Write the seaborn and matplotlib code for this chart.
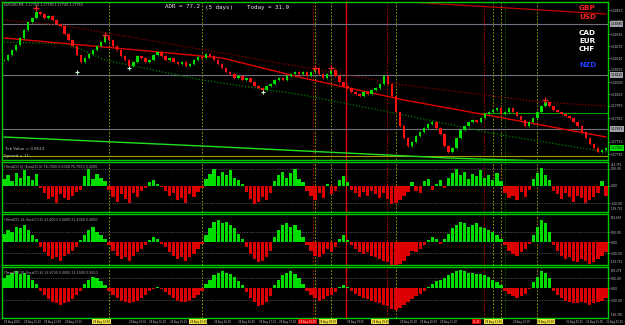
import numpy as np
import pandas as pd
import matplotlib
matplotlib.use("Agg")
import matplotlib.pyplot as plt
import seaborn as sns
from matplotlib.transforms import blended_transform_factory as btf

# ---------------- data ----------------
close = [1.18200, 1.18225, 1.18250, 1.18275, 1.18310, 1.18350, 1.18390, 1.18410, 1.18440, 1.18430,
         1.18410, 1.18420, 1.18400, 1.18380, 1.18370, 1.18330, 1.18300, 1.18270, 1.18225, 1.18190,
         1.18210, 1.18230, 1.18250, 1.18270, 1.18290, 1.18320, 1.18300, 1.18270, 1.18250, 1.18220,
         1.18200, 1.18170, 1.18190, 1.18220, 1.18210, 1.18190, 1.18200, 1.18225, 1.18240, 1.18220,
         1.18200, 1.18210, 1.18190, 1.18180, 1.18190, 1.18170, 1.18180, 1.18200, 1.18215, 1.18210,
         1.18230, 1.18220, 1.18200, 1.18180, 1.18160, 1.18140, 1.18130, 1.18110, 1.18120, 1.18100,
         1.18110, 1.18090, 1.18070, 1.18060, 1.18050, 1.18070, 1.18080, 1.18100, 1.18110, 1.18100,
         1.18120, 1.18130, 1.18140, 1.18130, 1.18140, 1.18120, 1.18140, 1.18160, 1.18130, 1.18110,
         1.18130, 1.18150, 1.18120, 1.18090, 1.18070, 1.18060, 1.18040, 1.18030, 1.18020, 1.18040,
         1.18030, 1.18050, 1.18060, 1.18080, 1.18120, 1.18080, 1.18020, 1.17940, 1.17870, 1.17810,
         1.17770, 1.17790, 1.17820, 1.17840, 1.17860, 1.17880, 1.17890, 1.17860, 1.17830, 1.17770,
         1.17740, 1.17760, 1.17810, 1.17850, 1.17870, 1.17890, 1.17900, 1.17890, 1.17910, 1.17930,
         1.17940, 1.17950, 1.17960, 1.17930, 1.17940, 1.17960, 1.17940, 1.17920, 1.17900, 1.17870,
         1.17890, 1.17910, 1.17940, 1.17970, 1.17990, 1.17970, 1.17950, 1.17940, 1.17930, 1.17920,
         1.17910, 1.17890, 1.17870, 1.17840, 1.17810, 1.17780, 1.17760, 1.17740, 1.17750, 1.17760]

cci_fast = [60, 90, 40, 110, 70, 130, 80, 50, 100,
            -20, -60, -110, -90, -140, -70, -100, -120, -80, -50, -30,
            80, 140, 60, 100, 70, 40,
            -30, -90, -130, -70, -110, -140, -60, -90, -40, -20, 30,
            50, 20, -10,
            -40, -80, -60, -120, -100, -140, -70, -90, -50, -20,
            60, 100, 140, 80, 120, 90, 130, 70, 50, 20,
            -50, -110, -150, -130, -90, -120, -60,
            40, 90, 120, 70, 110, 140, 60, 30,
            -40, -80, -120, -60, -100, 20, -70, -40,
            50, 80, 30,
            -30, -60, -90, -50, -80, -40, -70, -100, -60, -110, -150, -140,
            -120, -80, -50, 30, -40, -60,
            40, 60, -30, 20, 50, -20,
            70, 110, 140, 90, 120, 60, 100, 80, 130, 70, 90, 50, 110, 40,
            -60, -100, -80, -120, -50, -90, -30,
            60, 110, 150, 90, 50,
            -40, -70, -110, -60, -90, -130, -80, -100, -140, -120, -90, -60, 40, -80]

cci_mid = [50, 70, 60, 90, 80, 100, 70, 40, 20,
           -30, -60, -80, -100, -90, -110, -80, -70, -50, -30, 10,
           40, 70, 90, 60, 40, 20,
           -20, -50, -80, -100, -90, -110, -80, -60, -40, -20, 10,
           30, 20, -10,
           -30, -60, -80, -100, -90, -110, -90, -70, -40, -10,
           40, 80, 120, 130, 110, 120, 100, 80, 50, 20,
           -30, -70, -100, -120, -110, -90, -50,
           30, 70, 100, 110, 90, 100, 70, 30,
           -20, -50, -80, -90, -70, -40, -60, -30,
           20, 40, 10,
           -20, -40, -60, -70, -60, -80, -90, -100, -110, -120, -140, -150,
           -130, -110, -80, -50, -60, -40,
           -20, 10, 30, 20, -10, 20,
           50, 80, 100, 120, 110, 90, 100, 110, 90, 80, 70, 60, 40, 20,
           -20, -50, -70, -80, -60, -40, -10,
           40, 90, 130, 110, 60,
           -20, -50, -80, -100, -90, -110, -120, -100, -110, -130, -120, -100, -80, -60]

cci_slow = [70, 90, 110, 120, 100, 110, 90, 60, 30,
            -20, -50, -80, -100, -110, -120, -110, -100, -80, -50, -20,
            30, 60, 80, 70, 50, 20,
            -20, -50, -70, -90, -100, -110, -100, -90, -70, -50, -20,
            -10, 10, -10,
            -30, -50, -70, -90, -100, -100, -90, -70, -50, -20,
            30, 60, 90, 110, 120, 110, 100, 80, 50, 20,
            -30, -70, -100, -130, -120, -100, -60,
            20, 60, 90, 110, 120, 100, 70, 30,
            -20, -50, -70, -90, -80, -60, -50, -30,
            10, 20, 10,
            -20, -40, -60, -70, -80, -90, -100, -110, -120, -130, -150, -160,
            -140, -120, -100, -80, -60, -40,
            -20, 10, 30, 50, 60, 70,
            90, 110, 120, 130, 120, 110, 110, 100, 100, 90, 80, 60, 40, 20,
            -20, -40, -60, -70, -60, -40, -10,
            40, 80, 120, 110, 70,
            -20, -50, -70, -90, -100, -110, -110, -100, -110, -120, -110, -100, -90, -70]

# indicator lines (bar index, price)
ma_red_idx = [0, 33, 54, 74, 99, 133, 149]
ma_red_val = [1.18310, 1.18250, 1.18210, 1.18110, 1.18000, 1.17875, 1.17815]
ma_dred_idx = [0, 14, 54, 99, 133, 149]
ma_dred_val = [1.18400, 1.18375, 1.18235, 1.18075, 1.17990, 1.17970]
ma_dgreen_idx = [0, 16, 25, 49, 74, 99, 123, 149]
ma_dgreen_val = [1.18290, 1.18280, 1.18200, 1.18100, 1.18025, 1.17925, 1.17825, 1.17740]
trend_green_idx = [0, 49, 110, 149]
trend_green_val = [1.17815, 1.17770, 1.17710, 1.17685]
gbp_line_idx = [92, 133, 149]
gbp_line_val = [1.18500, 1.18450, 1.18430]

levels_gray = [1.18380, 1.18125, 1.17855]
level_olive = 1.17720
level_green = 1.17935
level_green_start = 118

top_frac_idx = [8, 25, 77, 81, 134]
top_frac_val = [1.18460, 1.18325, 1.18160, 1.18160, 1.18000]
bot_frac_idx = [18, 31, 64]
bot_frac_val = [1.18140, 1.18160, 1.18040]

olive_events = [26, 49, 77, 81, 97, 121, 123, 132]
red_events = [76.5, 94.8, 118.8]
red_event_solid = [84.7]
green_events = [124]

xtick_pos = [0, 5, 10, 15, 22, 31, 36, 41, 46, 52, 58, 63, 68, 73, 78, 85, 91, 98, 103, 108,
             116, 119, 126, 132, 139, 144, 149]
xtick_lab = ["28 Aug 2020", "28 Aug 12:25", "28 Aug 12:50", "28 Aug 13:15", "28 Aug 13:50",
             "28 Aug 14:35", "28 Aug 15:00", "28 Aug 15:25", "28 Aug 15:50", "28 Aug 16:20",
             "28 Aug 16:50", "28 Aug 17:15", "28 Aug 17:40", "28 Aug 18:05", "28 Aug 18:30",
             "28 Aug 19:05", "28 Aug 19:35", "28 Aug 20:10", "28 Aug 20:35", "28 Aug 21:00",
             "21:40", "28 Aug 21:55", "28 Aug 22:30", "28 Aug 23:00",
             "31 Aug 00:35", "31 Aug 01:00", "31 Aug 01:25"]
xtick_hl = ["", "", "", "", "y", "", "", "", "y", "", "", "", "", "r", "y", "", "y", "",
            "", "", "r", "y", "", "y", "", "", ""]

currencies = ["GBP", "USD", "CAD", "EUR", "CHF", "NZD"]
currency_colors = ["#ff2020", "#ff2020", "#ffffff", "#ffffff", "#ffffff", "#2040ff"]
currency_y = [8, 17, 33, 41, 49, 65]

# ---------------- style ----------------
sns.set_theme(style="dark", rc={"axes.facecolor": "black", "figure.facecolor": "black",
                                "savefig.facecolor": "black"})
plt.rcParams["font.family"] = ["DejaVu Sans"]

W, H = 625, 325
fig = plt.figure(figsize=(6.25, 3.25), dpi=100)


def rect(x0, y0, x1, y1):
    return [x0 / W, 1 - y1 / H, (x1 - x0) / W, (y1 - y0) / H]


ax0 = fig.add_axes(rect(2, 2, 608, 160))
ax1 = fig.add_axes(rect(2, 162, 608, 212))
ax2 = fig.add_axes(rect(2, 214, 608, 265))
ax3 = fig.add_axes(rect(2, 267, 608, 318))
axes = [ax0, ax1, ax2, ax3]

GREEN = "#00c800"
LBL = "#c8c8c8"
TFS = 2.2
n = len(close)
bars = np.arange(n)

for ax in axes:
    ax.set_facecolor("black")
    for s in ax.spines.values():
        s.set_color(GREEN)
        s.set_linewidth(1.0)
    ax.set_xlim(-0.5, n - 0.5)
    ax.grid(False)
    ax.yaxis.tick_right()
    ax.tick_params(axis="y", labelsize=TFS, colors=LBL, length=1.2, width=0.4, pad=0.6)
    ax.tick_params(axis="x", bottom=False, labelbottom=False)
    for e in olive_events:
        ax.axvline(e, color="#b0b000", lw=0.6, ls=(0, (2, 2)), zorder=1)
    for e in red_events:
        ax.axvline(e, color="#d00000", lw=0.6, ls=(0, (2, 2)), zorder=1)
    for e in red_event_solid:
        ax.axvline(e, color="#e00000", lw=1.0, zorder=1)
    for e in green_events:
        ax.axvline(e, color="#00a000", lw=0.6, ls=(0, (1, 2)), zorder=1)

# ---------------- main panel ----------------
ymin, ymax = 1.17700, 1.18490
ax0.set_ylim(ymin, ymax)

for lv in levels_gray:
    ax0.axhline(lv, color="#707080", lw=0.8, zorder=1)
ax0.axhline(level_olive, color="#a0a000", lw=0.8, zorder=1)
ax0.plot([level_green_start, n - 0.5], [level_green, level_green], color="#00a000", lw=0.8, zorder=1)

sns.lineplot(x=ma_dgreen_idx, y=ma_dgreen_val, ax=ax0, color="#008000", lw=0.9, ls=(0, (1, 1.5)), zorder=2)
sns.lineplot(x=ma_dred_idx, y=ma_dred_val, ax=ax0, color="#900000", lw=0.9, ls=(0, (1, 1.5)), zorder=2)
sns.lineplot(x=ma_red_idx, y=ma_red_val, ax=ax0, color="#e00000", lw=1.0, zorder=2)
sns.lineplot(x=trend_green_idx, y=trend_green_val, ax=ax0, color="#20e020", lw=1.0, zorder=2)
sns.lineplot(x=gbp_line_idx, y=gbp_line_val, ax=ax0, color="#c00000", lw=0.9, zorder=2)

opens = [close[0]] + close[:-1]
o = np.array(opens)
c = np.array(close)
lo = np.minimum(o, c)
hi = np.maximum(o, c)
cols = np.where(c >= o, "#00e000", "#ff1010")
ax0.vlines(bars, lo - 0.00006, hi + 0.00006, colors=cols, lw=0.5, zorder=3)
ax0.bar(bars, np.maximum(hi - lo, 0.00002), bottom=lo, width=0.6, color=cols, lw=0, zorder=4)

sns.scatterplot(x=top_frac_idx, y=top_frac_val, ax=ax0, marker="+", color="#ff2020", s=14, linewidth=0.9, zorder=5)
sns.scatterplot(x=bot_frac_idx, y=bot_frac_val, ax=ax0, marker="+", color="#d0ffd0", s=12, linewidth=0.8, zorder=5)

yt = [1.18450 - k * 0.0006 for k in range(13)]
ax0.set_yticks(yt)
ax0.set_yticklabels([f"{v:.5f}" for v in yt])
ax0.set_xlabel("")
ax0.set_ylabel("")

tr = btf(ax0.transAxes, ax0.transData)
for lv in levels_gray:
    ax0.text(1.004, lv, f"{lv:.5f}", transform=tr, fontsize=TFS, color="black", va="center", ha="left",
             bbox=dict(boxstyle="square,pad=0.2", fc="#a0a0a8", ec="none"), clip_on=False)
ax0.text(1.004, close[-1], f"{close[-1]:.5f}", transform=tr, fontsize=TFS, color="black", va="center",
         ha="left", bbox=dict(boxstyle="square,pad=0.2", fc="#00e000", ec="none"), clip_on=False)

# ---------------- CCI panels ----------------
def draw_hist(ax, vals, ylim, levels, top_lab, bot_lab, header):
    df = pd.DataFrame({"bar": bars, "val": vals})
    df["dir"] = np.where(df["val"] >= 0, "up", "down")
    sns.barplot(data=df, x="bar", y="val", hue="dir", hue_order=["up", "down"],
                palette={"up": "#00dd00", "down": "#dd0000"}, native_scale=True, dodge=False,
                width=0.8, saturation=1, linewidth=0, legend=False, errorbar=None, ax=ax, zorder=3)
    ax.set_xlim(-0.5, n - 0.5)
    ax.set_ylim(*ylim)
    for lv in levels:
        ax.axhline(lv, color="#808080", lw=0.5, ls=(0, (1, 1.5)), zorder=2)
    ax.set_yticks([levels[0], 0, levels[1]])
    ax.set_yticklabels(["100.00", "0.00", "-100.00"])
    ax.tick_params(axis="x", bottom=False, labelbottom=False)
    ax.set_xlabel("")
    ax.set_ylabel("")
    ax.text(1.004, 0.97, top_lab, transform=ax.transAxes, fontsize=2.0, color=LBL, va="top", ha="left")
    ax.text(1.004, 0.02, bot_lab, transform=ax.transAxes, fontsize=2.0, color=LBL, va="bottom", ha="left")
    ax.text(0.003, 0.93, header, transform=ax.transAxes, fontsize=2.3, color="#b0b0b0", va="top", ha="left")


draw_hist(ax1, cci_fast, (-217, 200), [142, -142], "214.752", "-199.752",
          "(TrendCCI 6) (EmaCCI 6) 76.7000 0.0000 76.7000 0.0000")
draw_hist(ax2, cci_mid, (-135, 165), [59, -65], "154.664", "-196.752",
          "(TrendCCI 14, EmaCCI 6) 21.4000 0.0000 21.4000 0.0000")
draw_hist(ax3, cci_slow, (-214, 150), [71, -86], "176.279", "-180.700",
          "(TrendCCI 20, EmaCCI 6) 13.5000 0.0000 13.5000 0.0000")

# bottom time labels
trx = btf(ax3.transData, ax3.transAxes)
for p, lab, hl in zip(xtick_pos, xtick_lab, xtick_hl):
    kw = dict(transform=trx, fontsize=1.8, va="center", ha="left", clip_on=False)
    if hl == "y":
        ax3.text(p, -0.07, lab, color="black", bbox=dict(boxstyle="square,pad=0.25", fc="#f0e040", ec="none"), **kw)
    elif hl == "r":
        ax3.text(p, -0.07, lab, color="#ffe0e0", bbox=dict(boxstyle="square,pad=0.25", fc="#e00000", ec="none"), **kw)
    else:
        ax3.text(p, -0.07, lab, color=LBL, **kw)

# ---------------- texts ----------------
def ftxt(x, y, s, **kw):
    fig.text(x / W, 1 - y / H, s, **kw)

ftxt(4, 5, "EURUSD,M5  1.17760 1.17780 1.17740 1.17760", fontsize=2.3, color="#b8b8b8", va="center")
ftxt(165, 7, "ADR = 77.2", fontsize=4.2, color="#e8e8e8", va="center", family="DejaVu Sans Mono")
ftxt(205, 7, "(5 days)", fontsize=4.2, color="#e8e8e8", va="center", family="DejaVu Sans Mono")
ftxt(247, 7, "Today = 31.9", fontsize=4.2, color="#e8e8e8", va="center", family="DejaVu Sans Mono")
ftxt(4, 149, "Tick Value = 0.8513", fontsize=2.9, color="#b8c8b8", va="center")
ftxt(4, 156, "Spread = 11", fontsize=2.9, color="#b8c8b8", va="center")
for name, col, yy in zip(currencies, currency_colors, currency_y):
    ftxt(579, yy, name, fontsize=5.2, color=col, va="center", fontweight="bold")

fig.savefig("out.png", dpi=100, facecolor="black")
